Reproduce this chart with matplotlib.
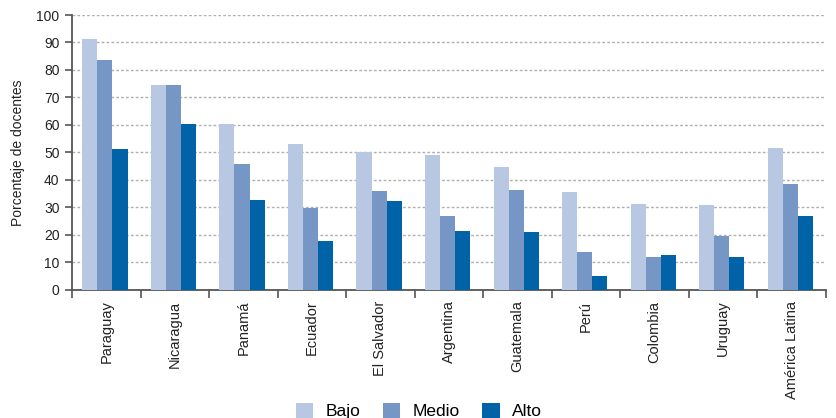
import numpy as np
import matplotlib
matplotlib.use("Agg")
import matplotlib.pyplot as plt
from matplotlib.patches import Patch

paises = ["Paraguay", "Nicaragua", "Panamá", "Ecuador", "El Salvador", "Argentina",
          "Guatemala", "Perú", "Colombia", "Uruguay", "América Latina"]
bajo = [91.3, 74.6, 60.3, 53.0, 50.1, 49.0, 44.6, 35.5, 31.1, 30.8, 51.6]
medio = [83.7, 74.6, 45.7, 29.7, 35.9, 26.8, 36.2, 13.6, 11.8, 19.5, 38.4]
alto = [51.2, 60.3, 32.6, 17.6, 32.2, 21.3, 20.9, 4.9, 12.5, 11.8, 26.8]
series = ["Bajo", "Medio", "Alto"]
colores = ["#B8C7E2", "#7696C6", "#0063A8"]

plt.rcParams["font.family"] = ["Liberation Sans", "DejaVu Sans"]

fig = plt.figure(figsize=(8.36, 4.18), dpi=100)
ax = fig.add_axes([0.0861, 0.3074, 0.9019, 0.6566])

x = np.arange(len(paises))
ancho = 0.22
for i, (vals, nombre, c) in enumerate(zip([bajo, medio, alto], series, colores)):
    ax.bar(x + (i - 1) * ancho - 0.02, vals, ancho, color=c, label=nombre, zorder=3)

ax.set_xlim(-0.5, len(paises) - 0.5)
ax.set_ylim(0, 100)
ax.set_yticks(range(0, 101, 10))
ax.yaxis.grid(True, color="#b0b0b0", linestyle=(0, (2, 1.5)), linewidth=1.0, zorder=0)

ax.set_xticks(np.arange(len(paises) + 1) - 0.5)
ax.set_xticklabels([])
ax.set_xticks(x, minor=True)
ax.set_xticklabels(paises, minor=True, rotation=90, fontsize=10.5, color="#222222")
ax.tick_params(axis="x", which="major", length=6, width=1.2, color="#555555", direction="out")
ax.tick_params(axis="x", which="minor", length=0, pad=8)
ax.tick_params(axis="y", length=5, width=1.2, color="#555555", labelsize=10,
               labelcolor="#222222", pad=4)

for lado in ["top", "right"]:
    ax.spines[lado].set_visible(False)
for lado in ["left", "bottom"]:
    ax.spines[lado].set_color("#555555")
    ax.spines[lado].set_linewidth(1.3)

ax.set_ylabel("Porcentaje de docentes", fontsize=10, color="#222222", labelpad=8)

handles = [Patch(facecolor=c, label=n) for n, c in zip(series, colores)]
fig.legend(handles=handles, loc="center", bbox_to_anchor=(0.501, 0.017), ncol=3,
           frameon=False, fontsize=12.5, handlelength=1.0, handleheight=1.0,
           columnspacing=1.3, handletextpad=0.7)

fig.savefig("out.png", dpi=100)
